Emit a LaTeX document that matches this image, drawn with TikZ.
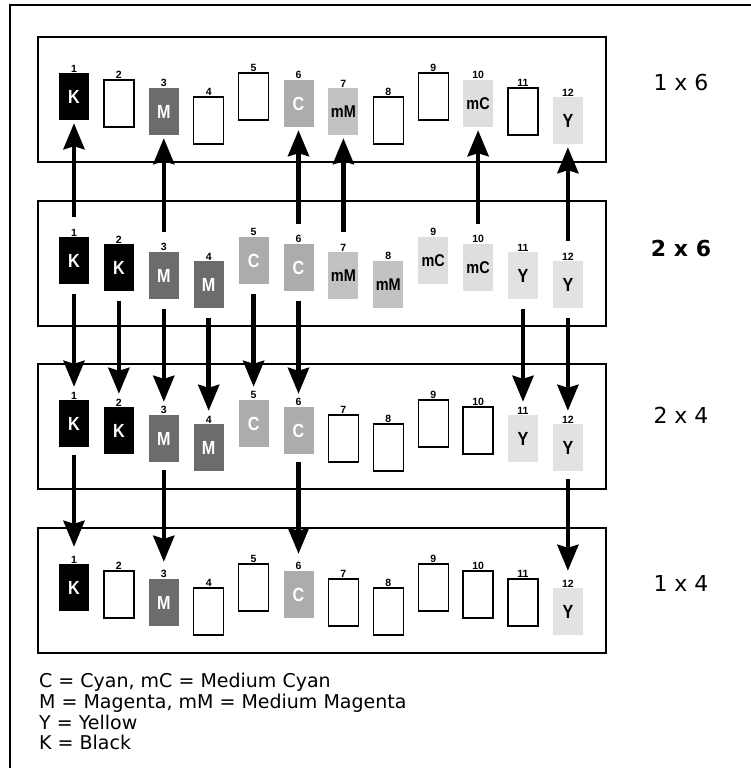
\documentclass[tikz,border=0pt]{standalone}
\usepackage{fontspec}
\setmainfont{DejaVu Sans}
\newfontfamily\cellfont[FakeStretch=0.85]{Liberation Sans}
\newfontfamily\numfont{Liberation Sans}
\usetikzlibrary{
  arrows.meta,
  positioning
}
\definecolor{magentagray}{RGB}{108,108,108}
\definecolor{cyangray}{RGB}{172,172,172}
\definecolor{midmagentagray}{RGB}{194,194,194}
\definecolor{midcyangray}{RGB}{222,222,222}
\definecolor{yellowgray}{RGB}{226,226,226}

\begin{document}
\begin{tikzpicture}[x=1pt,y=-1pt,
  cell/.style={minimum width=30pt,minimum height=47pt,inner sep=0pt,
    font=\cellfont\bfseries\fontsize{19}{19}\selectfont,
    label={[num]above:#1}},
  num/.style={font=\numfont\bfseries\fontsize{10.5}{10.5}\selectfont,inner sep=0.6pt},
  small/.style={font=\cellfont\bfseries\fontsize{17}{17}\selectfont},
  inkE/.style={draw,line width=1.3pt,node contents={}},
  inkK/.style={fill=black,text=white,node contents=K},
  inkM/.style={fill=magentagray,text=white,node contents=M},
  inkC/.style={fill=cyangray,text=white,node contents=C},
  inkmM/.style={fill=midmagentagray,small,node contents=mM},
  inkmC/.style={fill=midcyangray,small,node contents=mC},
  inkY/.style={fill=yellowgray,node contents=Y},
  panel/.style={line width=1.4pt},
  tag/.style={font=\fontsize{22}{26}\selectfont},
  arr/.style={-{Stealth[length=26pt,width=21pt,inset=3pt]},line width=4.5pt},
  uparr/.style={arr,shorten <=20pt,shorten >=3pt},
  dnarr/.style={arr,shorten <=10pt,shorten >=13pt},
]
\useasboundingbox (0,0) rectangle (751,771);
% ---- outer frame ----
\draw[line width=2.6pt] (10,768) -- (10,5) -- (751,5);

% ---- four head layouts ----
\foreach \p/\ytop/\cells in {
  1/37/{K,E,M,E,E,C,mM,E,E,mC,E,Y},
  2/201/{K,K,M,M,C,C,mM,mM,mC,mC,Y,Y},
  3/364/{K,K,M,M,C,C,E,E,E,E,Y,Y},
  4/528/{K,E,M,E,E,C,E,E,E,E,E,Y}}{
  \draw[panel] (38,\ytop) rectangle (606,\ytop+125);
  \foreach \ink [count=\i] in \cells {
    \pgfmathsetmacro\dy{{0,7,15,24}[mod(\i-1,4)]}
    \node (b\p-\i) at ({74+44.9*(\i-1)},{\ytop+59.5+\dy}) [cell=\i,ink\ink];
  }
}

% ---- mode names ----
\node[tag] (t1) at (681,82) {1 x 6};
\node[tag,font=\bfseries\fontsize{22}{26}\selectfont] (t2) at (681,248) {2 x 6};
\node[tag] (t3) at (681,415) {2 x 4};
\node[tag] (t4) at (681,583) {1 x 4};

% ---- 2 x 6 up to 1 x 6 ----
\foreach \i in {1,3,6,7,10,12}
  \draw[uparr] (b2-\i.north) -- (b1-\i.south);
% ---- 2 x 6 down to 2 x 4 ----
\foreach \i in {1,...,6,11,12}
  \draw[dnarr] (b2-\i.south) -- (b3-\i.north);
% ---- 2 x 4 down to 1 x 4 ----
\foreach \i in {1,3,6,12}
  \draw[dnarr,shorten <=8pt,shorten >=17pt] (b3-\i.south) -- (b4-\i.north);

% ---- key ----
\node[anchor=north west,inner sep=0pt,align=left,
      font=\fontsize{19}{20.7}\selectfont] (key) at (39,673)
  {C = Cyan, mC = Medium Cyan\\
   M = Magenta, mM = Medium Magenta\\
   Y = Yellow\\
   K = Black};
\end{tikzpicture}
\end{document}
